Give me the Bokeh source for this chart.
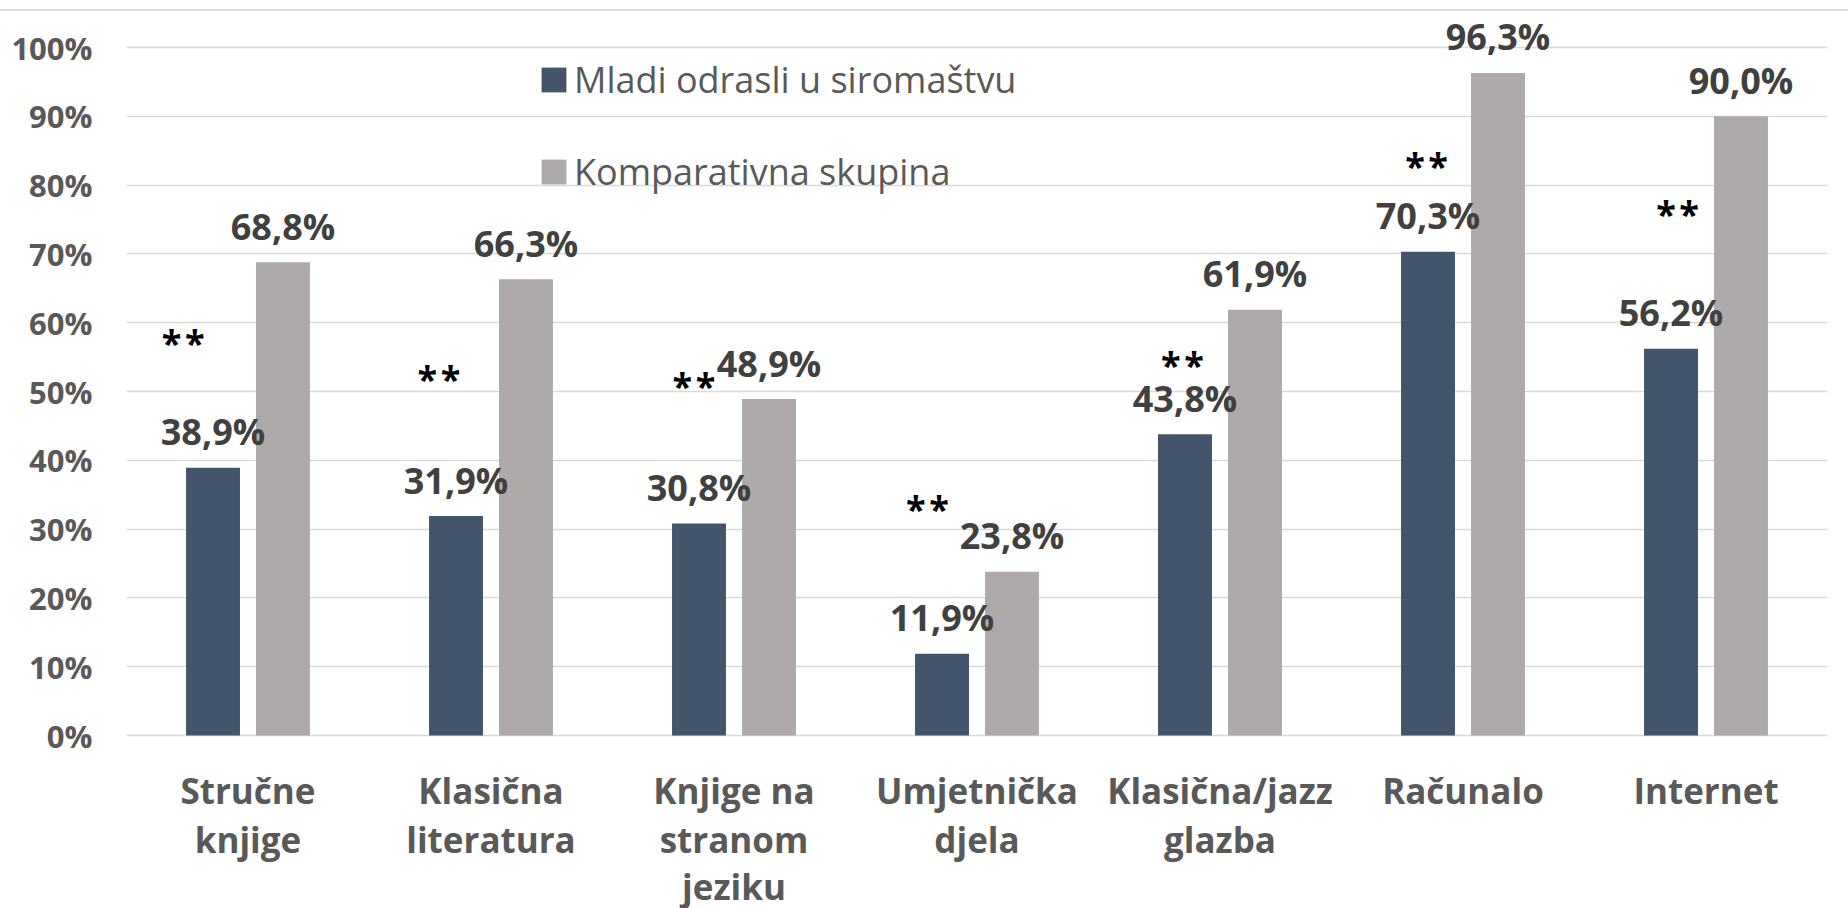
from bokeh.plotting import figure
from bokeh.models import (ColumnDataSource, FactorRange, LabelSet, Legend, LegendItem,
                          FixedTicker, PrintfTickFormatter, Div)
from bokeh.layouts import column
from bokeh.transform import dodge
from bokeh.embed import file_html
from bokeh.resources import INLINE
from bokeh.core.properties import value

# ---------------- data ----------------
categories = ["Stručne knjige", "Klasična literatura", "Knjige na stranom jeziku",
              "Umjetnička djela", "Klasična/jazz glazba", "Računalo", "Internet"]
category_lines = [["Stručne", "knjige"], ["Klasična", "literatura"],
                  ["Knjige na", "stranom", "jeziku"], ["Umjetnička", "djela"],
                  ["Klasična/jazz", "glazba"], ["Računalo"], ["Internet"]]
series_names = ["Mladi odrasli u siromaštvu", "Komparativna skupina"]
poverty = [38.9, 31.9, 30.8, 11.9, 43.8, 70.3, 56.2]
comparison = [68.8, 66.3, 48.9, 23.8, 61.9, 96.3, 90.0]
# significance markers ("**"): height (in %) and horizontal shift within the group
star_height = [57.3, 52.0, 51.0, 33.1, 54.0, 83.0, 76.0]
star_shift = [-0.267, -0.214, -0.165, -0.204, -0.155, -0.150, -0.117]
y_ticks = [0, 10, 20, 30, 40, 50, 60, 70, 80, 90, 100]

DARK = "#44546A"
GRAY = "#AEAAAA"
FONT = "Open Sans"

def pct(v):
    return f"{v:.1f}".replace(".", ",") + "%"

src = ColumnDataSource(dict(
    cat=categories,
    poverty=poverty,
    comparison=comparison,
    poverty_label=[pct(v) for v in poverty],
    comparison_label=[pct(v) for v in comparison],
))
star_src = ColumnDataSource(dict(
    x=[i + 0.5 + s for i, s in enumerate(star_shift)],
    y=star_height,
    t=["*\u200a*"] * len(star_height),
))
# category labels, one row per text line; baselines in pixels below the 0 line
LINE_OFFSETS = [-68, -117, -164]
cat_x, cat_off, cat_t = [], [], []
for c, lines in zip(categories, category_lines):
    for k, t in enumerate(lines):
        cat_x.append(c)
        cat_off.append(LINE_OFFSETS[k])
        cat_t.append(t)
cat_src = ColumnDataSource(dict(x=cat_x, y=[0] * len(cat_x), off=cat_off, t=cat_t))

# frame: top at 12px, 0 % at 735px, bottom at 908px; 6.88 px per %
p = figure(x_range=FactorRange(factors=categories, range_padding=0),
           y_range=(-(908 - 735) / 6.88, (735 - 12) / 6.88),
           width=1848, height=897,
           output_backend="svg", toolbar_location=None,
           min_border_left=126, min_border_right=21,
           min_border_top=1, min_border_bottom=0)
p.outline_line_color = None
p.background_fill_color = "white"
p.border_fill_color = "white"

off = 0.144
bw = 0.222
r1 = p.vbar(x=dodge("cat", -off, range=p.x_range), top="poverty", width=bw,
            source=src, fill_color=DARK, line_color=None)
r2 = p.vbar(x=dodge("cat", off, range=p.x_range), top="comparison", width=bw,
            source=src, fill_color=GRAY, line_color=None)

for col, lab, d in (("poverty", "poverty_label", -off), ("comparison", "comparison_label", off)):
    p.add_layout(LabelSet(x=dodge("cat", d, range=p.x_range), y=col, text=lab, source=src,
                          text_align="center", text_baseline="middle", y_offset=36,
                          text_font=value(FONT), text_font_style="bold",
                          text_font_size="36px", text_color="#404040"))

p.add_layout(LabelSet(x="x", y="y", text="t", source=star_src,
                      text_align="center", text_baseline="middle", y_offset=-1,
                      text_font=value(FONT), text_font_style="bold",
                      text_font_size="36px", text_color="black"))

p.add_layout(LabelSet(x="x", y="y", y_offset="off", text="t", source=cat_src,
                      text_align="center", text_baseline="alphabetic",
                      text_font=value(FONT), text_font_style="bold",
                      text_font_size="35px", text_color="#595959"))

# axes
p.yaxis.ticker = FixedTicker(ticks=y_ticks)
p.yaxis.formatter = PrintfTickFormatter(format="%d%%")
p.yaxis.axis_line_color = None
p.yaxis.major_tick_line_color = None
p.yaxis.minor_tick_line_color = None
p.yaxis.major_label_standoff = 28
p.yaxis.major_label_text_font = FONT
p.yaxis.major_label_text_font_style = "bold"
p.yaxis.major_label_text_font_size = "31px"
p.yaxis.major_label_text_color = "#595959"

p.xaxis.visible = False

p.xgrid.grid_line_color = None
p.ygrid.grid_line_color = "#D9D9D9"
p.ygrid.grid_line_width = 1.5

legend = Legend(items=[LegendItem(label=series_names[0], renderers=[r1]),
                       LegendItem(label=series_names[1], renderers=[r2])],
                location=(412, 539 + 173), orientation="vertical",
                glyph_width=31, glyph_height=31, label_height=50, spacing=42,
                padding=0, margin=0, label_standoff=5,
                label_text_font=FONT, label_text_font_size="36px",
                label_text_color="#595959",
                background_fill_alpha=0, border_line_alpha=0)
p.add_layout(legend)

top_line = Div(width=1848, height=2, margin=(9, 0, 0, 0),
               styles={"background-color": "#D9D9D9"})
layout = column(top_line, p, spacing=0)

open("out.html", "w").write(file_html(layout, INLINE))
